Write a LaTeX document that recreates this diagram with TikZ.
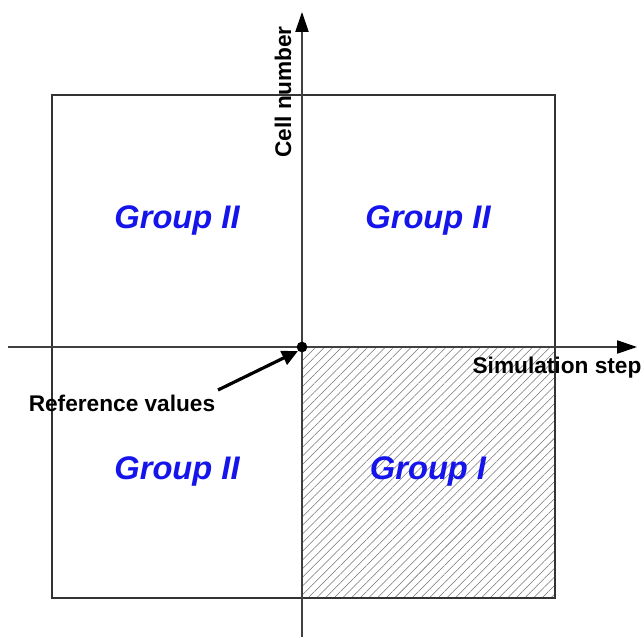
\documentclass[tikz,border=0pt]{standalone}
\usepackage{fontspec}
\setmainfont{Liberation Sans}
\usetikzlibrary{arrows.meta,positioning,patterns.meta}
\definecolor{grpblue}{RGB}{20,20,235}

\begin{document}
\begin{tikzpicture}[
  x=0.75pt, y=0.75pt,
  axis/.style={draw=black!75, line width=0.9pt, -{Triangle[length=15pt,width=10pt,black]}},
  frame/.style={draw=black!80, line width=0.9pt},
  group/.style={font=\fontsize{24.5}{28}\selectfont\bfseries\itshape, text=grpblue},
  lbl/.style={font=\fontsize{17}{20}\selectfont\bfseries, inner sep=0pt}
]
\useasboundingbox (0,0) rectangle (644,637);

% quadrants
\fill[pattern={Lines[angle=45,distance=4.6pt,line width=0.4pt]}, pattern color=black!55]
  (302,39) rectangle (555,290);
\draw[frame] (52,39) rectangle (555,542);

% axes
\coordinate (xs) at (8,290);
\coordinate (xe) at (637,290);
\coordinate (ys) at (302,0);
\coordinate (ye) at (302,625);
\draw[axis] (xs) -- (xe);
\draw[axis] (ys) -- (ye);
\node[circle, fill=black, inner sep=0pt, minimum size=8pt] (orig) at (302,290) {};

% labels
\node[lbl, rotate=90] (cell) at (283,545) {Cell number};
\node[lbl] (sim) at (557,269) {Simulation step};
\node[lbl] (ref) at (122,234) {Reference values};
\draw[line width=2.4pt, -{Triangle[length=12pt,width=11pt]}] (218,247) -- (orig.south west);

\node[group] (g2a) at (177,417) {Group II};
\node[group] (g2b) at (428,417) {Group II};
\node[group] (g2c) at (177,166) {Group II};
\node[group] (g1) at (428,166) {Group I};

\end{tikzpicture}
\end{document}
